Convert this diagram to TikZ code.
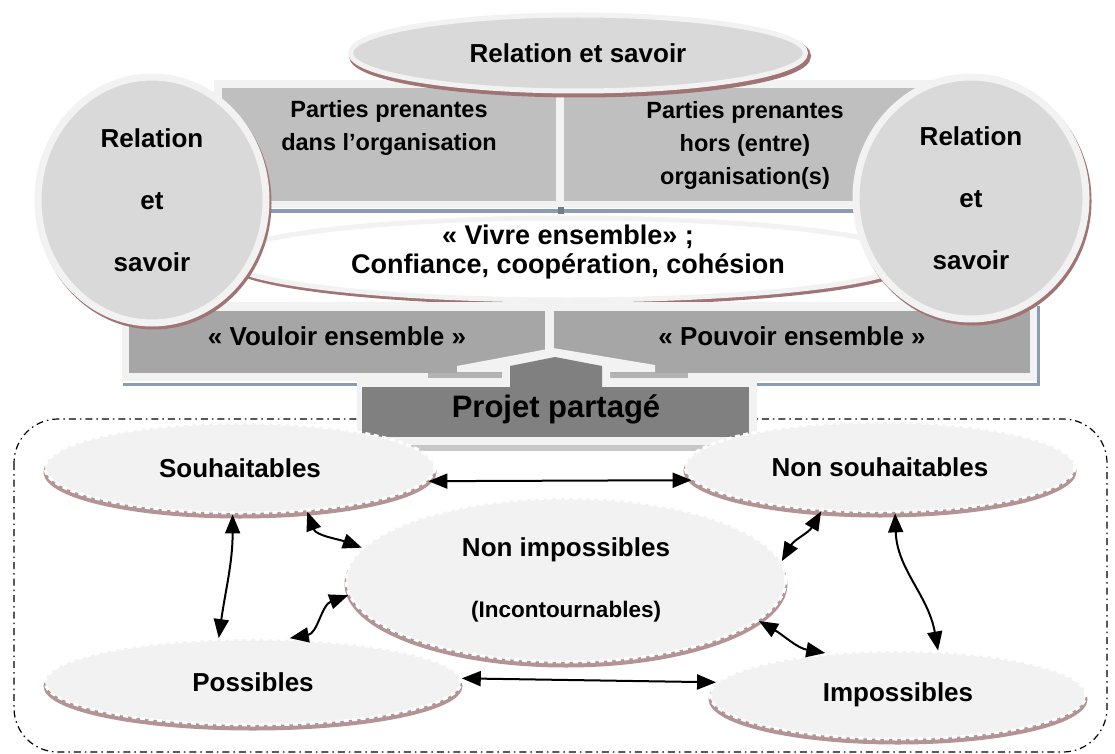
\documentclass[tikz,border=0pt]{standalone}
\usepackage{fontspec}
\setmainfont{Liberation Sans}
\usetikzlibrary{shapes.geometric,arrows.meta,shadows}

\definecolor{rimgray}{HTML}{F2F2F2}
\definecolor{discgray}{HTML}{D9D9D9}
\definecolor{upanel}{HTML}{BFBFBF}
\definecolor{lpanel}{HTML}{A6A6A6}
\definecolor{dpanel}{HTML}{808080}
\definecolor{rimbrown}{HTML}{A07474}
\definecolor{dashbrown}{HTML}{B39393}
\definecolor{bubblefill}{HTML}{F2F2F2}
\definecolor{steel}{HTML}{8A9BB4}
\definecolor{roofshade}{HTML}{B3B3B3}

\tikzset{
  lbl/.style={align=center, inner sep=0pt, text=black},
  fsz/.style 2 args={font=\fontsize{#1}{#2}\selectfont\bfseries},
  disc/.style={ellipse, inner sep=0pt, fill=discgray, draw=rimgray, line width=7pt,
    general shadow={fill=rimbrown, draw=rimbrown, solid, line width=7pt,
      shadow xshift=2pt, shadow yshift=-3pt}},
  whiteoval/.style={ellipse, inner sep=0pt, fill=white, draw=rimgray, line width=5pt,
    general shadow={fill=rimbrown, draw=rimbrown, solid, line width=5pt,
      shadow xshift=2pt, shadow yshift=-3pt}},
  bubble/.style={ellipse, inner sep=0pt, fill=bubblefill, draw=white, line width=3pt,
    dash pattern=on 5pt off 3.5pt,
    general shadow={fill=dashbrown, draw=dashbrown, solid, line width=3pt,
      shadow xshift=0pt, shadow yshift=-4pt}},
  enclosure/.style={draw=black, line width=1.2pt,
    dash pattern=on 7pt off 4pt on 1.5pt off 4pt, rounded corners=44pt},
  tip/.tip={Triangle[length=19pt,width=15pt]},
  conn/.style={tip-tip, line width=2pt, black},
}

\begin{document}
\begin{tikzpicture}[x=1pt,y=-1pt]
\useasboundingbox (0,0) rectangle (1115,754);
\fill[white] (0,0) rectangle (1115,754);

% dash-dot enclosure of the lower group
\path[enclosure] (14,419) rectangle (1107,752);

% upper band: stakeholders
\fill[rimgray] (214,80) rectangle (950,208);
\fill[upanel] (222,88) rectangle (556,201);
\fill[upanel] (564,88) rectangle (945,201);
\draw[steel, line width=3.5pt] (222,211) -- (860,211);
\fill[steel!80!black] (558,207) rectangle (564,214);
\node[lbl, fsz={23.5pt}{33pt}] (inside) at (389,128) {Parties prenantes\\dans l’organisation};
\node[lbl, fsz={23.5pt}{33pt}] (outside) at (745,145) {Parties prenantes\\hors (entre)\\organisation(s)};

% top oval
\node[disc, line width=5pt, minimum width=455pt, minimum height=76pt, fsz={26pt}{30pt}]
  (topoval) at (578,53) {Relation et savoir};

% central white oval
\node[whiteoval, minimum width=685pt, minimum height=82pt] (vivre) at (568,259) {};
\node[lbl, fsz={27pt}{29pt}] (vivretxt) at (568,252)
  {« Vivre ensemble» ;\\Confiance, coopération, cohésion};

% lower band: wanting / being able
\fill[rimgray] (122,302) rectangle (1037,381);
\fill[lpanel] (129,311) rectangle (545,373);
\fill[lpanel] (554,311) rectangle (1030,373);
\draw[steel, line width=3pt] (123,384) -- (1038,384) -- (1038,306);
\node[lbl, fsz={26pt}{30pt}] (vouloir) at (337,336) {« Vouloir ensemble »};
\node[lbl, fsz={26pt}{30pt}] (pouvoir) at (792,336) {« Pouvoir ensemble »};

% side discs
\node[disc, minimum width=228pt, minimum height=246pt, lbl, fsz={26pt}{62pt}]
  (lcirc) at (152,200) {Relation\\et\\savoir};
\node[disc, minimum width=230pt, minimum height=242pt, lbl, fsz={26pt}{62pt}]
  (rcirc) at (971,198) {Relation\\et\\savoir};

% shared project block with its roof
\fill[roofshade] (428,373) rectangle (502,378);
\fill[roofshade] (610,373) rectangle (688,378);
\fill[rimgray] (457,366) -- (553,348) -- (655,365) -- (655,372) -- (610,372)
  -- (610,380) -- (502,380) -- (502,372) -- (457,372) -- cycle;
\fill[black!22] (357,445) rectangle (757,451);
\fill[rimgray] (357,378) rectangle (757,445);
\fill[dpanel] (362,387) rectangle (749,437);
\fill[dpanel] (510,387) -- (510,366) -- (555,357) -- (602,366) -- (602,387) -- cycle;
\node[lbl, fsz={31pt}{36pt}] (projet) at (556,409) {Projet partagé};

% the five outcomes
\node[bubble, minimum width=390pt, minimum height=90pt, lbl, fsz={26pt}{30pt}]
  (souh) at (240,468) {Souhaitables};
\node[bubble, minimum width=390pt, minimum height=90pt, lbl, fsz={26pt}{30pt}]
  (nonsouh) at (880,467) {Non souhaitables};
\node[bubble, minimum width=440pt, minimum height=164pt, lbl, fsz={26pt}{61pt}]
  (nonimp) at (566,580) {Non impossibles\\{\fontsize{22.5pt}{61pt}\selectfont (Incontournables)}};
\node[bubble, minimum width=416pt, minimum height=86pt, lbl, fsz={26pt}{30pt}]
  (poss) at (253,682) {Possibles};
\node[bubble, minimum width=376pt, minimum height=88pt, lbl, fsz={26pt}{30pt}]
  (imp) at (898,695) {Impossibles};

% links between outcomes
\draw[conn] (souh.-4) -- (nonsouh.-176);
\draw[conn] (poss.1) -- (imp.176);
\draw[conn] (souh.-99) to[out=-90,in=82] (poss.128);
\draw[conn] (souh.-33) to[out=-70,in=160] (nonimp.171);
\draw[conn] (poss.50) to[out=10,in=-160] (nonimp.-176);
\draw[conn] (nonsouh.217) to[out=-120,in=60] (nonimp.5);
\draw[conn] (nonimp.-12) to[out=-30,in=170] (imp.150);
\draw[conn] (nonsouh.-72) to[out=-88,in=100] (imp.48);
\end{tikzpicture}
\end{document}
